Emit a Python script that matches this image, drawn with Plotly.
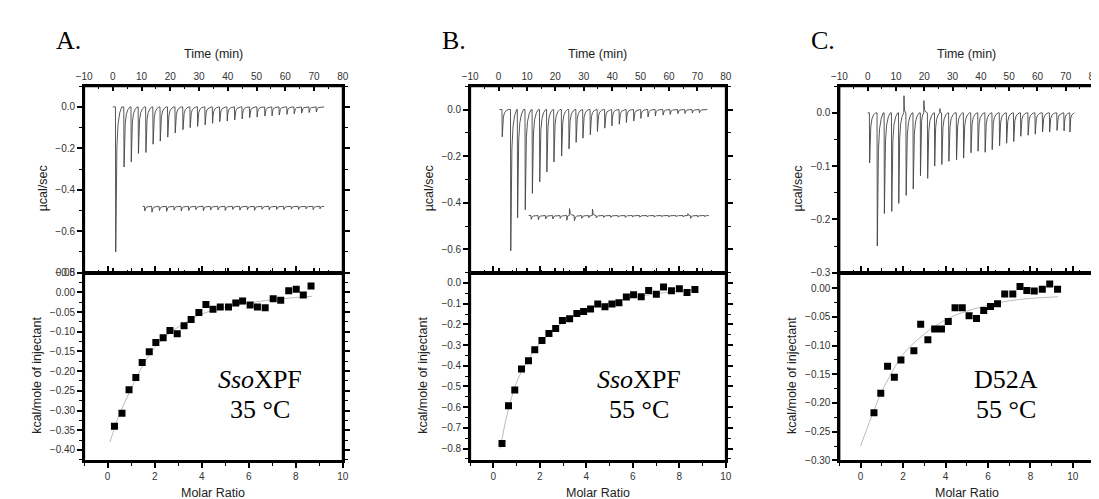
import plotly.graph_objects as go

W, H = 1099, 499

# ---------------- raw thermograms (time in min, peak height in ucal/sec) ----------------
A_inj_t = [0.9, 3.8, 6.3, 8.8, 11.4, 13.9, 16.4, 19.0, 21.6, 24.3, 26.8, 29.4, 32.0, 34.6,
           37.1, 39.7, 42.3, 44.9, 47.5, 50.1, 52.8, 55.3, 57.8, 60.5, 63.0, 65.6, 68.2, 70.7]
A_inj_h = [-0.70, -0.29, -0.265, -0.225, -0.22, -0.18, -0.165, -0.146, -0.126, -0.11, -0.10,
           -0.094, -0.087, -0.079, -0.071, -0.068, -0.063, -0.058, -0.052, -0.049, -0.044,
           -0.043, -0.039, -0.036, -0.033, -0.030, -0.027, -0.024]
A_ctrl_t = [11.0, 13.5, 16.1, 18.6, 21.2, 23.7, 26.3, 28.8, 31.4, 33.9, 36.5, 39.0, 41.6,
            44.1, 46.7, 49.2, 51.8, 54.3, 56.9, 59.4, 62.0, 64.5, 67.1, 69.6, 72.0]
A_ctrl_h = [-0.022, -0.028, -0.020, -0.024, -0.018, -0.022, -0.020, -0.016, -0.021, -0.018,
            -0.017, -0.020, -0.015, -0.018, -0.016, -0.019, -0.014, -0.017, -0.015, -0.016,
            -0.013, -0.015, -0.012, -0.016, -0.012]
A_ctrl_base = -0.48

B_inj_t = [1.2, 4.2, 6.6, 9.3, 11.8, 14.4, 16.9, 19.4, 22.1, 24.7, 27.2, 29.6, 32.2, 34.7,
           37.3, 39.8, 42.4, 44.9, 47.5, 50.0, 52.5, 55.1, 57.8, 60.3, 63.0, 65.5, 68.1, 70.6]
B_inj_h = [-0.117, -0.606, -0.465, -0.43, -0.36, -0.31, -0.268, -0.225, -0.20, -0.169, -0.141,
           -0.123, -0.108, -0.094, -0.080, -0.070, -0.063, -0.056, -0.049, -0.038, -0.032,
           -0.028, -0.024, -0.021, -0.018, -0.017, -0.015, -0.014]
B_ctrl_t = [11.4, 13.9, 16.5, 19.0, 21.6, 24.0, 24.9, 26.6, 29.2, 31.7, 33.0, 34.3, 36.9, 39.4,
            42.0, 44.5, 47.1, 49.6, 52.2, 54.7, 57.3, 59.8, 62.4, 64.9, 66.6, 67.5, 70.0, 72.5]
B_ctrl_h = [-0.016, -0.018, -0.014, -0.015, -0.012, -0.020, 0.030, -0.022, -0.012, -0.010,
            0.028, -0.010, -0.008, -0.008, -0.007, -0.008, -0.006, -0.007, -0.006, -0.007,
            -0.005, -0.006, -0.005, -0.006, 0.008, -0.012, -0.006, -0.005]
B_ctrl_base = -0.455

C_inj_t = [0.6, 3.3, 5.8, 8.4, 10.9, 12.8, 13.5, 16.0, 18.6, 19.8, 21.1, 23.6, 25.5, 26.1,
           28.6, 31.3, 33.8, 36.4, 38.9, 41.4, 43.9, 46.5, 49.0, 51.5, 54.0, 56.6, 59.1, 61.7,
           64.2, 66.8, 69.3, 71.4]
C_inj_h = [-0.094, -0.25, -0.189, -0.185, -0.17, 0.032, -0.155, -0.143, -0.118, 0.023, -0.123,
           -0.10, 0.008, -0.097, -0.091, -0.088, -0.085, -0.075, -0.072, -0.074, -0.069, -0.062,
           -0.057, -0.054, -0.044, -0.042, -0.040, -0.036, -0.036, -0.033, -0.034, -0.036]

# ---------------- integrated heats (molar ratio, kcal/mole of injectant) ----------------
A_mr = [0.29, 0.61, 0.91, 1.20, 1.47, 1.77, 2.05, 2.36, 2.65, 2.96, 3.25, 3.55, 3.88, 4.18,
        4.48, 4.79, 5.14, 5.45, 5.74, 6.06, 6.37, 6.70, 7.04, 7.36, 7.70, 8.02, 8.32, 8.65]
A_heat = [-0.340, -0.307, -0.247, -0.216, -0.178, -0.151, -0.127, -0.115, -0.097, -0.105,
          -0.085, -0.069, -0.051, -0.031, -0.043, -0.037, -0.037, -0.027, -0.022, -0.032,
          -0.037, -0.039, -0.016, -0.020, 0.004, 0.008, -0.007, 0.016]
A_fit_x = [0.1, 0.5, 1.0, 1.5, 2.0, 2.5, 3.0, 3.5, 4.0, 5.0, 6.0, 7.0, 8.0, 8.7]
A_fit_y = [-0.38, -0.31, -0.245, -0.185, -0.14, -0.11, -0.088, -0.07, -0.055, -0.038,
           -0.027, -0.019, -0.013, -0.010]

B_mr = [0.37, 0.65, 0.92, 1.21, 1.51, 1.78, 2.09, 2.39, 2.68, 2.97, 3.28, 3.59, 3.88, 4.18,
        4.49, 4.80, 5.10, 5.40, 5.72, 6.03, 6.36, 6.68, 7.01, 7.32, 7.66, 8.00, 8.33, 8.67]
B_heat = [-0.775, -0.593, -0.517, -0.415, -0.376, -0.322, -0.278, -0.244, -0.220, -0.181,
          -0.173, -0.148, -0.138, -0.126, -0.102, -0.115, -0.102, -0.096, -0.068, -0.057,
          -0.066, -0.036, -0.055, -0.020, -0.038, -0.028, -0.046, -0.031]
B_fit_x = [0.3, 0.6, 1.0, 1.5, 2.0, 2.5, 3.0, 3.5, 4.0, 5.0, 6.0, 7.0, 8.0, 8.7]
B_fit_y = [-0.80, -0.63, -0.48, -0.37, -0.29, -0.235, -0.19, -0.16, -0.13, -0.095, -0.07,
           -0.052, -0.04, -0.033]

C_mr = [0.63, 0.95, 1.27, 1.59, 1.90, 2.51, 2.83, 3.17, 3.49, 3.81, 4.13, 4.45, 4.79, 5.11,
        5.46, 5.80, 6.12, 6.45, 6.79, 7.17, 7.51, 7.83, 8.18, 8.56, 8.91, 9.28]
C_heat = [-0.217, -0.183, -0.136, -0.155, -0.125, -0.109, -0.063, -0.090, -0.071, -0.071,
          -0.058, -0.034, -0.034, -0.048, -0.053, -0.039, -0.032, -0.027, -0.010, -0.010,
          0.003, -0.004, -0.005, -0.002, 0.007, -0.002]
C_fit_x = [0.0, 0.5, 1.0, 1.5, 2.0, 3.0, 4.0, 5.0, 6.0, 7.0, 8.0, 9.3]
C_fit_y = [-0.275, -0.225, -0.18, -0.145, -0.115, -0.08, -0.055, -0.04, -0.03, -0.022,
           -0.018, -0.015]

# peak template for drawing each injection (style only)
SHAPE_DT = [0.0, 0.1, 0.25, 0.5, 0.9, 1.5, 2.2]
SHAPE_F = [0.0, 1.0, 0.55, 0.28, 0.12, 0.04, 0.0]


def thermogram(t_start, t_end, base, times, heights):
    xs, ys = [t_start], [base]
    ev = sorted(zip(times, heights))
    for i, (t, h) in enumerate(ev):
        nxt = ev[i + 1][0] if i + 1 < len(ev) else t_end
        k = min(1.0, (nxt - t - 0.05) / SHAPE_DT[-1])
        for dt, f in zip(SHAPE_DT, SHAPE_F):
            xs.append(t + dt * k)
            ys.append(base + h * f)
    xs.append(t_end)
    ys.append(base)
    return xs, ys


PANELS = [
    dict(letter="A.", xpx=(69, 331), top_rng=[-0.8, 0.1], top_dt=0.2, top_min=0.1, top_fmt=".1f",
         bot_rng=[-0.428, 0.05], bot_dt=0.05, bot_min=0.025, bot_fmt=".2f", mr_rng=[-1, 10],
         raw=[(0.0, 73.5, 0.0, A_inj_t, A_inj_h), (10.3, 73.5, A_ctrl_base, A_ctrl_t, A_ctrl_h)],
         mr=A_mr, heat=A_heat, fx=A_fit_x, fy=A_fit_y,
         lab1="<i>Sso</i>XPF", lab2="35 °C", labx=247),
    dict(letter="B.", xpx=(460, 719), top_rng=[-0.7, 0.1], top_dt=0.2, top_min=0.1, top_fmt=".1f",
         bot_rng=[-0.86, 0.05], bot_dt=0.1, bot_min=0.05, bot_fmt=".1f", mr_rng=[-1, 10],
         raw=[(0.3, 73.5, 0.0, B_inj_t, B_inj_h), (10.6, 74.0, B_ctrl_base, B_ctrl_t, B_ctrl_h)],
         mr=B_mr, heat=B_heat, fx=B_fit_x, fy=B_fit_y,
         lab1="<i>Sso</i>XPF", lab2="55 °C", labx=631),
    dict(letter="C.", xpx=(834, 1092), top_rng=[-0.3, 0.05], top_dt=0.1, top_min=0.05, top_fmt=".1f",
         bot_rng=[-0.301, 0.027], bot_dt=0.05, bot_min=0.025, bot_fmt=".2f", mr_rng=[-1, 11],
         raw=[(0.0, 73.0, 0.0, C_inj_t, C_inj_h)],
         mr=C_mr, heat=C_heat, fx=C_fit_x, fy=C_fit_y,
         lab1="D52A", lab2="55 °C", labx=1003),
]

TOP_PX = (74, 265)
BOT_PX = (265, 458)
TOP_Y = [1 - TOP_PX[1] / H, 1 - TOP_PX[0] / H]
BOT_Y = [1 - BOT_PX[1] / H, 1 - BOT_PX[0] / H]
TICKFONT = dict(family="Liberation Sans, Arial, sans-serif", size=10, color="#333")
TITLEFONT = dict(family="Liberation Sans, Arial, sans-serif", size=12.5, color="#222")
SERIF = "Liberation Serif, Times New Roman, serif"


def ax_name(kind, n):
    return f"{kind}axis" if n == 1 else f"{kind}axis{n}"


def ref(kind, n):
    return kind if n == 1 else f"{kind}{n}"


def frame_axis(ticks, minor_dt):
    return dict(showline=True, mirror="ticks", linecolor="#000000", linewidth=2,
                showgrid=False, zeroline=False, ticks=ticks, ticklen=5, tickwidth=1.6,
                tickcolor="#000000", tickfont=TICKFONT,
                minor=dict(ticks=ticks, ticklen=3, tickwidth=1.3, tickcolor="#000000",
                           dtick=minor_dt, showgrid=False))


fig = go.Figure()
layout = {}
annotations = []
shapes = []

for p, P in enumerate(PANELS):
    xi, xb = 2 * p + 1, 2 * p + 2
    yr, yb = 2 * p + 1, 2 * p + 2
    xd = [P["xpx"][0] / W, P["xpx"][1] / W]

    # top raw panel
    a = frame_axis("inside", 5)
    a.update(domain=xd, anchor=ref("y", yr), side="top", range=[-10, 80], dtick=10, tick0=0)
    layout[ax_name("x", xi)] = a
    a = frame_axis("outside", P["top_min"])
    a.update(domain=TOP_Y, anchor=ref("x", xi), range=P["top_rng"], dtick=P["top_dt"],
             tick0=0, tickformat=P["top_fmt"])
    layout[ax_name("y", yr)] = a

    # bottom integrated-heat panel
    a = frame_axis("outside", 1)
    a.update(domain=xd, anchor=ref("y", yb), side="bottom", range=P["mr_rng"], dtick=2, tick0=0)
    layout[ax_name("x", xb)] = a
    a = frame_axis("outside", P["bot_min"])
    a.update(domain=BOT_Y, anchor=ref("x", xb), range=P["bot_rng"], dtick=P["bot_dt"],
             tick0=0, tickformat=P["bot_fmt"])
    layout[ax_name("y", yb)] = a

    # panel frames in paper units
    for yd in (TOP_Y, BOT_Y):
        shapes.append(dict(type="rect", xref="paper", yref="paper",
                           x0=xd[0], x1=xd[1], y0=yd[0], y1=yd[1],
                           line=dict(color="black", width=2), layer="above"))

    for (t0, t1, base, tt, hh) in P["raw"]:
        xs, ys = thermogram(t0, t1, base, tt, hh)
        fig.add_trace(go.Scatter(x=xs, y=ys, mode="lines", line=dict(color="#444", width=0.9),
                                 xaxis=ref("x", xi), yaxis=ref("y", yr), showlegend=False,
                                 hoverinfo="skip"))

    fig.add_trace(go.Scatter(x=P["fx"], y=P["fy"], mode="lines", line=dict(color="#bbb", width=1),
                             line_shape="spline", xaxis=ref("x", xb), yaxis=ref("y", yb),
                             showlegend=False, hoverinfo="skip"))
    fig.add_trace(go.Scatter(x=P["mr"], y=P["heat"], mode="markers",
                             marker=dict(symbol="square", size=7, color="black"),
                             xaxis=ref("x", xb), yaxis=ref("y", yb), showlegend=False))

    cx = (P["xpx"][0] + P["xpx"][1]) / 2
    annotations += [
        dict(text=P["letter"], x=(P["xpx"][0] - 31) / W, y=1 - 27 / H, xanchor="left",
             yanchor="middle", font=dict(family=SERIF, size=26, color="black")),
        dict(text="Time (min)", x=cx / W, y=1 - 41 / H, xanchor="center", yanchor="middle",
             font=TITLEFONT),
        dict(text="Molar Ratio", x=cx / W, y=1 - 491 / H, xanchor="center", yanchor="middle",
             font=TITLEFONT),
        dict(text="µcal/sec", x=(P["xpx"][0] - 42) / W, y=1 - 179 / H, xanchor="center",
             yanchor="middle", textangle=-90, font=TITLEFONT),
        dict(text="kcal/mole of injectant", x=(P["xpx"][0] - 48) / W, y=1 - 370 / H,
             xanchor="center", yanchor="middle", textangle=-90, font=TITLEFONT),
        dict(text=P["lab1"], x=P["labx"] / W, y=1 - 374 / H, xanchor="center",
             yanchor="middle", font=dict(family=SERIF, size=26, color="black")),
        dict(text=P["lab2"], x=P["labx"] / W, y=1 - 405 / H, xanchor="center",
             yanchor="middle", font=dict(family=SERIF, size=26, color="black")),
    ]

for an in annotations:
    an.update(xref="paper", yref="paper", showarrow=False)

fig.update_layout(
    width=W, height=H,
    margin=dict(l=0, r=0, t=0, b=0),
    paper_bgcolor="white", plot_bgcolor="white",
    annotations=annotations,
    shapes=shapes,
    **layout,
)

fig.write_html("out.html")
